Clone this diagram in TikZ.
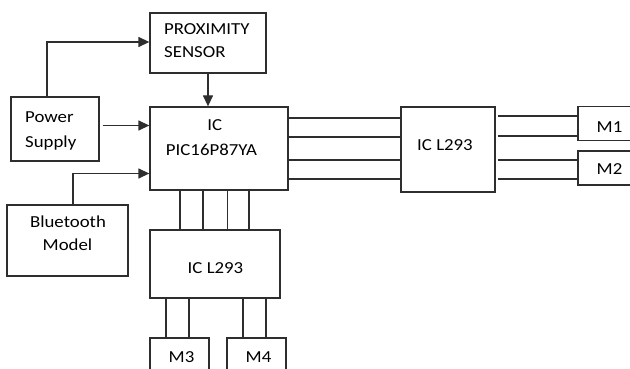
\documentclass[tikz,border=0pt]{standalone}
\usepackage{fontspec}
\setmainfont{Carlito}[FakeStretch=1.12]
\usetikzlibrary{arrows.meta}
\definecolor{ln}{HTML}{2E2E2E}
\tikzset{
  blk/.style={draw=ln, line width=1.3pt, inner sep=0pt, minimum width=#1},
  lbl/.style={inner sep=0pt, font=\fontsize{16.8}{19}\selectfont, text=black},
  wire/.style={draw=ln, line width=1.3pt},
  arr/.style={draw=ln, line width=1.3pt, -{Triangle[length=11pt,width=10pt]}},
}
\begin{document}
\begin{tikzpicture}[x=1pt,y=-1pt]
\useasboundingbox (0,0) rectangle (630,369);
\clip (0,0) rectangle (630,369);
% boxes
\node[blk=116pt, minimum height=60pt] (prox) at (208,43) {};
\node[blk=88pt, minimum height=64pt] (power) at (55,129) {};
\node[blk=138pt, minimum height=83pt] (ic) at (219,148.5) {};
\node[blk=121pt, minimum height=71pt] (bt) at (67.5,240.5) {};
\node[blk=94pt, minimum height=85pt] (l1) at (448,149.5) {};
\node[blk=62pt, minimum height=34pt] (m1) at (609,123.5) {};
\node[blk=62pt, minimum height=34pt] (m2) at (609,168) {};
\node[blk=130pt, minimum height=68pt] (l2) at (215,264) {};
\node[blk=59pt, minimum height=44pt] (m3) at (179.5,360) {};
\node[blk=59pt, minimum height=44pt] (m4) at (256.5,360) {};
% texts
\node[lbl, anchor=base west] (tprox1) at (164,35) {PROXIMITY};
\node[lbl, anchor=base west] (tprox2) at (164,58) {SENSOR};
\node[lbl, anchor=base west] (tpow1) at (25,122) {Power};
\node[lbl, anchor=base west] (tpow2) at (25,147) {Supply};
\node[lbl, anchor=base] (tic1) at (214.7,131) {IC};
\node[lbl, anchor=base] (tic2) at (211.5,156) {PIC16P87YA};
\node[lbl, anchor=base] (tbt1) at (68,227) {Bluetooth};
\node[lbl, anchor=base] (tbt2) at (67.5,250) {Model};
\node[lbl, anchor=base] (tl1) at (445,150) {IC L293};
\node[lbl, anchor=base] (tl2) at (215.5,273) {IC L293};
\node[lbl, anchor=base] (tm1) at (609.5,132) {M1};
\node[lbl, anchor=base] (tm2) at (609.5,174) {M2};
\node[lbl, anchor=base] (tm3) at (181.5,362) {M3};
\node[lbl, anchor=base] (tm4) at (258.5,362) {M4};
% arrows
\draw[arr] ([xshift=-8pt]power.north) |- (prox.west |- 0,42);
\draw[arr] ([xshift=3pt,yshift=3.5pt]power.east) -- ([yshift=3.5pt]power.east -| ic.west);
\draw[arr] ([xshift=5.5pt]bt.north) |- (ic.west |- 0,173.5);
\draw[arr] (prox.south) -- (prox.south |- ic.north);
% IC to right L293
\foreach \y in {118,137,160,179}
  \draw[wire] (ic.east |- 0,\y) -- (l1.west |- 0,\y);
% right L293 to motors
\foreach \y in {116,136}
  \draw[wire] ([xshift=2pt]l1.east |- 0,\y) -- (m1.west |- 0,\y);
\foreach \y in {160,179}
  \draw[wire] ([xshift=2pt]l1.east |- 0,\y) -- (m2.west |- 0,\y);
% IC to bottom L293
\foreach \x in {180,203,227.5,249}
  \draw[wire] (ic.south -| \x,0) -- (l2.north -| \x,0);
% bottom L293 to M3/M4
\foreach \x in {166,189}
  \draw[wire] (l2.south -| \x,0) -- (m3.north -| \x,0);
\foreach \x in {243,266}
  \draw[wire] (l2.south -| \x,0) -- (m4.north -| \x,0);
\end{tikzpicture}
\end{document}
